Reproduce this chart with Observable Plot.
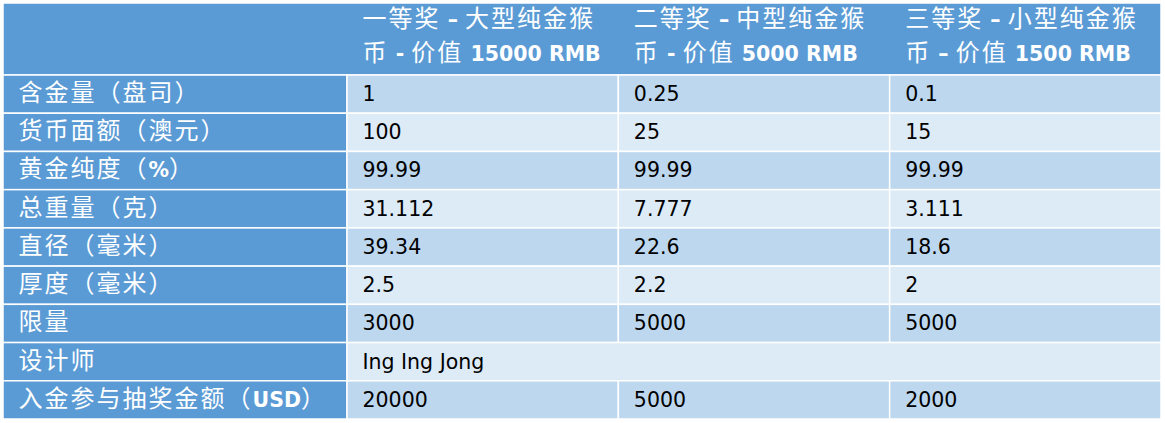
<!DOCTYPE html>
<html><head><meta charset="utf-8">
<script src="https://cdn.jsdelivr.net/npm/d3@7"></script>
<script src="https://cdn.jsdelivr.net/npm/@observablehq/plot@0.6"></script>
<style>body{margin:0;background:#fff}</style>
</head><body><div id="chart"></div>
<script>
const headerLine1 = ["一等奖 – 大型纯金猴", "二等奖 – 中型纯金猴", "三等奖 – 小型纯金猴"];
const headerLine2 = ["币 - 价值 15000 RMB", "币 - 价值 5000 RMB", "币 – 价值 1500 RMB"];
const rowLabels = ["含金量（盘司）", "货币面额（澳元）", "黄金纯度（%）", "总重量（克）", "直径（毫米）", "厚度（毫米）", "限量", "设计师", "入金参与抽奖金额（USD）"];
const firstPrize = ["1", "100", "99.99", "31.112", "39.34", "2.5", "3000", "Ing Ing Jong", "20000"];
const secondPrize = ["0.25", "25", "99.99", "7.777", "22.6", "2.2", "5000", null, "5000"];
const thirdPrize = ["0.1", "15", "99.99", "3.111", "18.6", "2", "5000", null, "2000"];

const prizeValues = [firstPrize, secondPrize, thirdPrize];
const nCols = prizeValues.length + 1;
const nRows = rowLabels.length + 1;
const blue = "#5B9BD5", dark = "#BDD7EE", light = "#DDEBF7";

const cells = [], values = [], labelCells = [], headers = [];
rowLabels.forEach((label, i) => {
  const r = i + 1;
  const fill = i % 2 === 0 ? dark : light;
  labelCells.push({x1: 0, x2: 1, y1: r, y2: r + 1, label});
  const merged = prizeValues.slice(1).every(v => v[i] == null);
  if (merged) cells.push({x1: 1, x2: nCols, y1: r, y2: r + 1, fill});
  else prizeValues.forEach((v, c) => cells.push({x1: c + 1, x2: c + 2, y1: r, y2: r + 1, fill}));
  prizeValues.forEach((v, c) => { if (v[i] != null) values.push({x: c + 1, y: r + 0.5, text: v[i]}); });
});
headerLine1.forEach((l, c) => headers.push({x: c + 1, y: 0.5, l1: l, l2: headerLine2[c]}));

const chart = Plot.plot({
  width: 1165, height: 423, margin: 0,
  x: {type: "linear", domain: [0, 1, nCols], range: [3, 347, 1161], axis: null},
  y: {type: "linear", domain: [0, 1, nRows], range: [3, 75, 419], axis: null},
  style: {fontFamily: "'DejaVu Sans', 'Noto Sans CJK SC', sans-serif", background: "white"},
  marks: [
    Plot.rect([{}], {x1: 0, x2: nCols, y1: 0, y2: 1, fill: blue, stroke: "white", strokeWidth: 1.5}),
    Plot.rect(labelCells, {x1: "x1", x2: "x2", y1: "y1", y2: "y2", fill: blue, stroke: "white", strokeWidth: 1.5}),
    Plot.rect(cells, {x1: "x1", x2: "x2", y1: "y1", y2: "y2", fill: "fill", stroke: "white", strokeWidth: 1.5}),
    Plot.text(headers, {x: "x", y: "y", text: "l1", dx: 15, dy: -19, textAnchor: "start", fill: "white", fontSize: 20}),
    Plot.text(headers, {x: "x", y: "y", text: "l2", dx: 15, dy: 15, textAnchor: "start", fill: "white", fontSize: 20}),
    Plot.text(labelCells, {x: "x1", y: d => d.y1 + 0.5, text: "label", dx: 15, textAnchor: "start", fill: "white", fontSize: 20}),
    Plot.text(values, {x: "x", y: "y", text: "text", dx: 15, textAnchor: "start", fill: "black", fontSize: 20})
  ]
});

// split mixed-script text into CJK / Latin runs
const cjk = /([\u2E80-\u9FFF\u3000-\u303F\uFF00-\uFFEF]+)/;
chart.querySelectorAll("text").forEach(t => {
  const g = t.closest("g");
  const bold = g && g.getAttribute("fill") === "white";
  const s = t.textContent;
  t.textContent = "";
  t.style.whiteSpace = "pre";
  s.split(cjk).filter(p => p.length).forEach(p => {
    const ts = document.createElementNS("http://www.w3.org/2000/svg", "tspan");
    ts.textContent = p;
    if (cjk.test(p)) {
      ts.setAttribute("font-family", "'Noto Sans CJK SC'");
      ts.setAttribute("font-size", "24");
      ts.setAttribute("letter-spacing", "2");
    } else {
      ts.setAttribute("font-family", "'DejaVu Sans'");
      ts.setAttribute("font-size", "20.5");
      if (bold) ts.setAttribute("font-weight", "bold");
    }
    t.appendChild(ts);
  });
});
document.getElementById("chart").appendChild(chart);
</script>
</body></html>
